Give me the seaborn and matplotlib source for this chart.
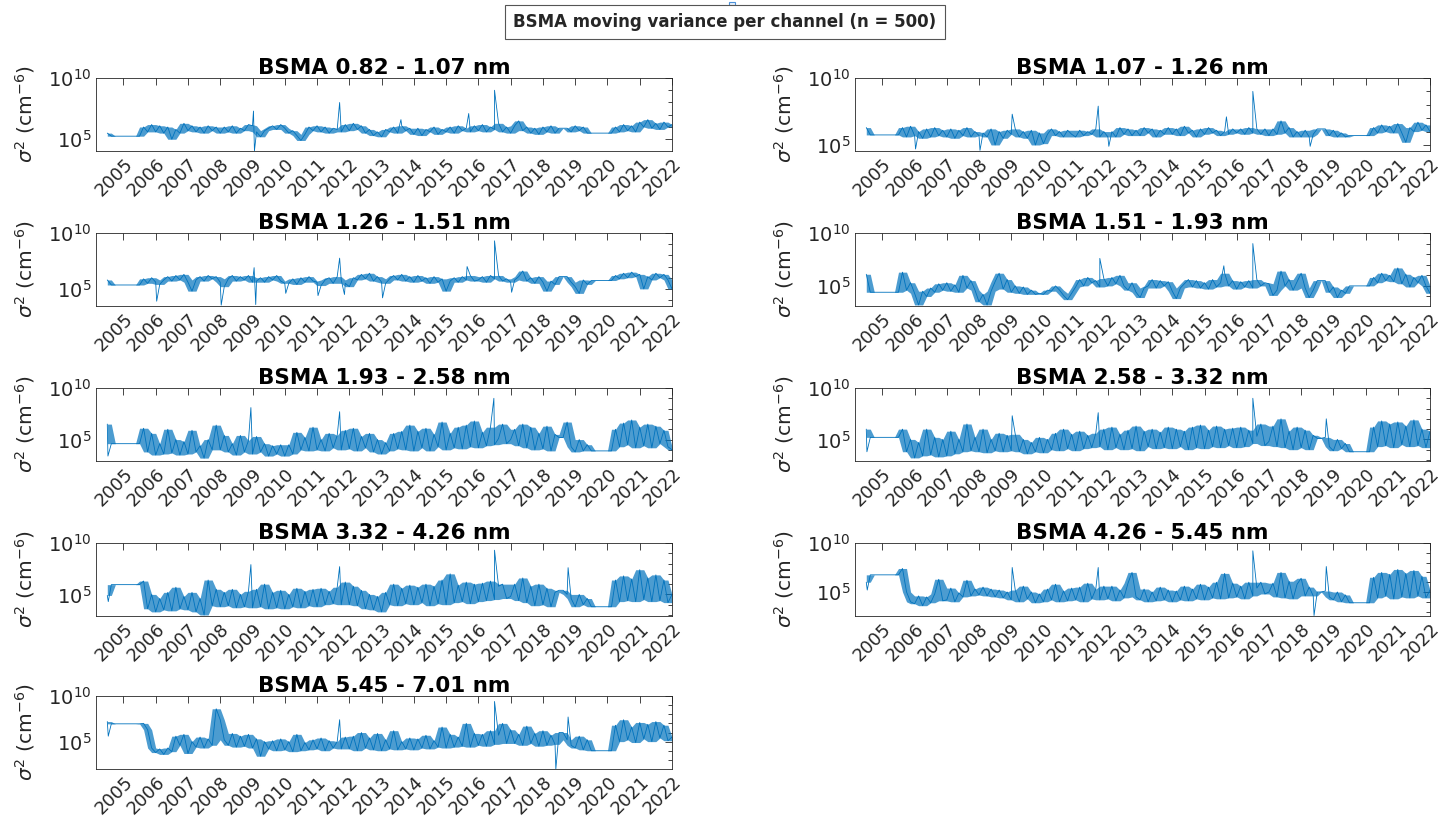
import numpy as np
import matplotlib
matplotlib.use("Agg")
import matplotlib.pyplot as plt
import seaborn as sns
from matplotlib.patches import Rectangle

# sampling dates, decimal years (every 1/8 year from mid-2004)
t_grid = 2004.5 + 0.125 * np.arange(141)

titles = ["BSMA 0.82 - 1.07 nm", "BSMA 1.07 - 1.26 nm", "BSMA 1.26 - 1.51 nm",
          "BSMA 1.51 - 1.93 nm", "BSMA 1.93 - 2.58 nm", "BSMA 2.58 - 3.32 nm",
          "BSMA 3.32 - 4.26 nm", "BSMA 4.26 - 5.45 nm", "BSMA 5.45 - 7.01 nm"]
years = list(range(2005, 2023))
ylow = [4.04, 4.55, 3.47, 3.1, 2.92, 2.9, 2.9, 2.55, 2.0]   # log10 of lower y limit

# log10 of moving variance
v_082 = [5.5, 5.25, 5.25, 5.25,
         5.25, 5.25, 5.25, 5.25, 5.25, 6.0, 5.6, 6.2,
         5.6, 6.1, 5.5, 6.0, 5.0, 5.8, 5.5, 6.3,
         5.7, 6.1, 5.6, 6.0, 5.5, 6.1, 5.7, 6.0,
         5.5, 6.0, 5.6, 6.1, 5.5, 5.9, 5.7, 6.2,
         6.1, 5.6, 5.2, 5.7, 5.9, 6.1, 5.8, 6.2,
         5.9, 5.5, 5.7, 5.3, 4.9, 5.4, 6.0, 5.7,
         6.1, 5.6, 6.0, 5.5, 5.9, 5.8, 5.6, 6.2,
         5.7, 6.3, 5.8, 6.1, 5.5, 5.8, 5.3, 5.6,
         5.2, 5.8, 5.6, 6.0, 5.5, 6.1, 5.7, 5.9,
         5.4, 5.9, 5.3, 5.8, 5.6, 6.0, 5.4, 5.8,
         5.6, 6.0, 5.5, 6.1, 5.7, 5.9, 5.6, 6.1,
         5.7, 6.2, 5.6, 6.0, 5.8, 6.3, 5.6, 6.0,
         5.5, 6.1, 6.5, 5.7, 6.0, 5.5, 5.9, 5.4,
         6.0, 5.6, 6.1, 5.5, 5.9, 5.9, 5.9, 5.6,
         6.1, 5.7, 6.0, 5.5, 5.5, 5.5, 5.5, 5.5,
         5.5, 5.5, 6.0, 5.6, 6.2, 5.7, 6.1, 5.6,
         6.4, 6.0, 6.6, 5.9, 6.3, 5.8, 6.4, 6.0,
         6.2]
v_107 = [6.3, 5.75, 5.75, 5.75,
         5.75, 5.75, 5.75, 5.75, 5.75, 6.3, 5.6, 6.4,
         5.7, 6.0, 5.5, 6.2, 5.6, 6.3, 5.7, 6.1,
         5.6, 6.2, 5.5, 6.1, 5.7, 6.3, 5.6, 6.0,
         5.7, 5.9, 5.6, 6.2, 5.0, 6.0, 5.5, 6.1,
         5.8, 6.2, 5.6, 6.0, 5.5, 6.1, 5.0, 5.9,
         5.1, 5.8, 6.2, 5.7, 6.0, 5.6, 6.1, 5.8,
         5.6, 6.1, 5.7, 6.0, 5.8, 6.2, 5.6, 6.0,
         5.6, 6.0, 5.6, 6.3, 5.8, 6.2, 5.7, 6.1,
         5.7, 6.3, 5.9, 6.2, 5.6, 6.1, 5.8, 6.3,
         5.8, 6.2, 5.7, 6.4, 5.9, 6.1, 5.6, 6.2,
         5.8, 6.3, 5.9, 6.1, 5.7, 6.0, 5.8, 6.2,
         5.9, 6.2, 5.8, 6.3, 5.9, 6.2, 5.8, 6.2,
         5.7, 6.2, 5.8, 6.8, 5.9, 6.3, 5.6, 6.0,
         5.6, 6.1, 5.6, 5.8, 6.2, 6.2, 6.2, 5.7,
         6.1, 5.6, 5.9, 5.6, 5.7, 5.7, 5.7, 5.7,
         5.7, 5.7, 6.3, 5.9, 6.5, 6.0, 6.4, 5.9,
         6.6, 5.9, 5.2, 6.3, 6.0, 6.7, 6.1, 6.5,
         6.0]
v_126 = [5.8, 5.35, 5.35, 5.35,
         5.35, 5.35, 5.35, 5.35, 5.35, 5.9, 5.5, 6.0,
         5.6, 5.4, 5.8, 6.1, 5.7, 6.2, 5.8, 6.3,
         5.6, 4.8, 5.8, 6.1, 5.7, 6.2, 5.9, 6.1,
         5.6, 5.2, 5.9, 6.2, 5.7, 6.1, 5.8, 6.2,
         5.6, 5.7, 6.0, 5.6, 6.1, 5.8, 6.2, 5.7,
         5.5, 5.5, 5.9, 5.4, 6.0, 5.6, 6.1, 5.7,
         5.6, 5.3, 5.8, 6.0, 5.5, 6.1, 5.8, 5.5,
         5.2, 6.0, 5.8, 6.3, 5.9, 6.4, 5.7, 6.1,
         5.6, 5.5, 5.9, 6.2, 5.8, 6.3, 5.7, 6.1,
         5.6, 6.2, 5.7, 6.0, 5.5, 6.1, 5.6, 5.9,
         4.8, 5.7, 6.0, 5.6, 6.1, 5.8, 6.2, 5.7,
         5.8, 6.1, 5.6, 6.2, 5.9, 6.2, 5.7, 5.9,
         5.6, 5.8, 6.1, 6.6, 5.7, 6.0, 5.5, 6.1,
         5.6, 4.8, 5.7, 5.4, 6.1, 6.1, 6.1, 5.6,
         5.2, 4.6, 5.8, 5.4, 5.75, 5.75, 5.75, 5.75,
         5.75, 5.75, 6.2, 5.9, 6.4, 6.0, 6.5, 6.1,
         6.3, 5.0, 6.1, 5.8, 6.4, 6.0, 6.3, 5.8,
         5.0]
v_151 = [6.1, 4.4, 4.4, 4.4,
         4.4, 4.4, 4.4, 4.4, 4.4, 6.3, 4.6, 5.3,
         4.3, 3.2, 4.5, 4.0, 4.8, 4.4, 5.2, 4.6,
         5.3, 4.5, 5.1, 4.4, 6.0, 4.8, 5.5, 4.6,
         3.5, 4.2, 3.2, 4.5, 5.4, 6.2, 4.7, 5.6,
         4.4, 5.0, 4.3, 4.9, 4.2, 4.6, 4.2, 4.3,
         4.2, 4.6, 4.5, 5.0, 4.6, 4.1, 3.7, 4.3,
         4.9, 5.6, 5.0, 5.8, 5.3, 5.5, 4.9, 5.7,
         5.0, 5.8, 5.2, 6.0, 5.0, 4.6, 5.3, 4.4,
         3.9, 4.8, 5.0, 5.6, 4.8, 5.5, 5.0, 5.4,
         4.5, 3.8, 4.8, 5.2, 5.6, 4.9, 5.5, 4.8,
         5.3, 4.7, 5.6, 4.9, 5.3, 6.2, 5.0, 5.5,
         4.7, 5.4, 4.9, 5.5, 4.8, 5.6, 5.0, 5.3,
         5.2, 4.1, 4.6, 6.4, 5.0, 5.6, 4.6, 5.4,
         6.2, 4.8, 3.9, 4.6, 5.5, 5.5, 5.5, 4.4,
         4.9, 3.9, 4.6, 4.3, 5.0, 5.0, 5.0, 5.0,
         5.0, 5.0, 5.8, 5.3, 6.2, 5.5, 6.0, 5.4,
         6.7, 5.2, 6.1, 4.9, 5.8, 5.3, 6.0, 5.0,
         4.3]
v_193 = [6.5, 4.6, 4.6, 4.6,
         4.6, 4.6, 4.6, 4.6, 4.6, 6.1, 3.8, 5.6,
         3.5, 4.6, 3.6, 6.0, 3.7, 5.0, 3.5, 4.8,
         3.6, 5.9, 3.8, 4.4, 3.2, 5.0, 4.0, 6.4,
         4.0, 5.4, 3.8, 4.6, 3.5, 5.4, 3.8, 4.9,
         3.6, 5.3, 3.8, 4.6, 3.4, 4.4, 3.6, 4.5,
         3.4, 4.5, 3.6, 5.7, 4.0, 5.2, 3.9, 6.2,
         4.0, 5.0, 3.9, 5.6, 4.2, 5.4, 4.0, 5.9,
         4.1, 6.1, 3.9, 5.3, 4.2, 5.6, 3.8, 5.0,
         3.6, 4.7, 3.9, 5.6, 4.1, 5.8, 4.0, 6.4,
         3.9, 5.8, 4.2, 6.1, 3.9, 5.5, 4.3, 6.7,
         4.0, 5.6, 4.2, 6.2, 4.1, 6.4, 4.3, 6.8,
         4.2, 5.7, 4.4, 6.2, 4.5, 5.1, 6.5, 4.6,
         5.0, 6.0, 4.4, 6.5, 4.2, 6.2, 4.0, 5.6,
         4.1, 6.3, 3.9, 5.5, 5.2, 5.2, 6.7, 4.3,
         3.8, 5.0, 3.9, 4.5, 3.9, 3.9, 3.9, 3.9,
         3.9, 3.9, 6.0, 4.3, 6.6, 4.5, 6.9, 4.2,
         6.2, 4.4, 6.5, 4.2, 6.3, 4.6, 5.9, 4.3,
         4.0]
v_258 = [6.0, 5.2, 5.2, 5.2,
         5.2, 5.2, 5.2, 5.2, 5.2, 6.0, 3.8, 5.0,
         3.2, 4.7, 3.4, 6.0, 3.5, 5.2, 3.3, 5.0,
         3.4, 5.8, 3.6, 5.0, 3.8, 6.5, 3.9, 5.2,
         3.8, 6.0, 3.7, 5.0, 3.9, 5.6, 3.8, 5.4,
         3.9, 5.5, 3.8, 5.0, 3.6, 4.7, 3.8, 5.2,
         3.7, 5.0, 4.0, 5.6, 3.9, 6.0, 4.1, 5.5,
         3.9, 5.8, 4.1, 5.4, 4.2, 5.6, 4.3, 6.0,
         4.0, 6.2, 4.2, 5.5, 4.0, 5.9, 4.1, 6.3,
         3.9, 5.8, 4.3, 6.0, 4.1, 5.7, 4.2, 6.2,
         4.1, 6.0, 4.3, 5.8, 4.0, 6.2, 4.2, 6.4,
         4.1, 5.9, 4.3, 6.3, 4.2, 6.0, 4.4, 6.1,
         4.2, 6.2, 4.3, 5.9, 4.6, 5.3, 6.5, 4.4,
         4.8, 6.3, 4.3, 7.0, 4.2, 5.8, 4.0, 6.2,
         4.2, 5.9, 4.0, 5.4, 5.1, 5.1, 5.2, 4.3,
         3.9, 5.0, 4.1, 4.6, 3.8, 3.8, 3.8, 3.8,
         3.8, 3.8, 6.2, 4.3, 6.8, 4.4, 6.5, 4.2,
         6.7, 4.5, 6.3, 4.3, 6.9, 4.4, 6.0, 4.2,
         5.8]
v_332 = [4.9, 5.95, 5.95, 5.95,
         5.95, 5.95, 5.95, 5.95, 5.95, 6.3, 3.6, 5.0,
         3.3, 4.6, 3.5, 5.2, 3.4, 5.7, 3.6, 4.8,
         3.5, 5.2, 3.3, 4.6, 3.0, 6.4, 3.9, 5.5,
         3.8, 5.2, 3.9, 5.5, 3.7, 5.0, 3.8, 5.3,
         3.7, 5.5, 3.8, 6.0, 3.6, 5.2, 3.7, 5.4,
         3.6, 5.0, 3.8, 5.6, 3.7, 5.3, 3.9, 5.5,
         3.8, 5.6, 4.0, 5.3, 4.1, 5.7, 4.0, 6.2,
         4.0, 5.8, 3.9, 5.4, 3.6, 5.0, 3.5, 4.8,
         3.3, 5.2, 4.0, 6.0, 3.9, 5.6, 4.1, 5.9,
         4.0, 5.7, 4.2, 6.0, 3.9, 5.8, 4.1, 6.4,
         4.0, 7.0, 4.2, 5.9, 4.3, 6.2, 4.1, 6.0,
         4.3, 6.1, 4.4, 6.3, 4.5, 5.8, 6.0, 4.6,
         4.8, 6.0, 4.4, 6.6, 4.2, 5.8, 3.9, 6.0,
         4.0, 5.6, 3.8, 5.2, 5.4, 5.4, 5.0, 4.6,
         3.8, 5.0, 4.0, 4.6, 3.8, 3.8, 3.8, 3.8,
         3.8, 3.8, 6.4, 4.3, 6.8, 4.4, 6.5, 4.3,
         7.4, 4.5, 6.6, 4.3, 6.9, 4.4, 6.4, 4.2,
         5.0]
v_426 = [6.0, 6.75, 6.75, 6.75,
         6.75, 6.75, 6.75, 6.75, 6.75, 7.4, 5.0, 4.0,
         3.8, 4.6, 3.6, 4.5, 3.9, 4.8, 6.3, 4.1,
         4.2, 5.4, 4.0, 4.9, 4.5, 6.2, 4.6, 5.3,
         4.7, 5.5, 4.6, 5.3, 4.5, 5.2, 4.4, 5.0,
         4.2, 5.2, 4.0, 5.6, 4.3, 5.0, 3.9, 4.8,
         4.0, 5.3, 4.2, 5.8, 4.0, 5.1, 4.1, 5.4,
         4.2, 5.5, 4.0, 5.9, 4.3, 5.3, 4.2, 5.6,
         4.3, 5.6, 4.1, 5.2, 4.4, 5.9, 7.0, 4.5,
         4.2, 5.3, 4.0, 5.0, 4.1, 5.5, 4.2, 5.2,
         4.0, 5.1, 4.2, 5.6, 4.1, 5.3, 4.3, 5.8,
         4.2, 5.5, 4.4, 6.0, 4.3, 6.9, 4.4, 5.9,
         4.5, 5.6, 4.3, 6.0, 4.6, 5.4, 6.0, 4.8,
         5.0, 5.9, 4.5, 7.0, 4.4, 6.1, 4.3, 5.8,
         6.4, 4.6, 5.5, 4.6, 5.0, 5.0, 5.1, 4.5,
         4.2, 5.0, 4.0, 4.7, 3.9, 3.9, 3.9, 3.9,
         3.9, 3.9, 6.5, 4.4, 7.0, 4.6, 6.8, 4.3,
         7.3, 4.5, 6.9, 4.4, 7.2, 4.6, 6.6, 4.4,
         5.2]
v_545 = [7.2, 6.95, 6.95, 6.95,
         6.95, 6.95, 6.95, 6.95, 6.95, 7.0, 6.3, 4.3,
         3.8, 4.2, 3.6, 4.3, 3.9, 5.6, 4.6, 5.8,
         3.7, 5.0, 4.4, 5.5, 4.3, 5.3, 4.6, 8.6,
         7.4, 5.2, 4.6, 5.9, 4.4, 5.6, 4.5, 5.8,
         4.3, 5.3, 3.4, 5.0, 4.2, 5.1, 4.0, 5.3,
         4.1, 5.0, 3.9, 5.8, 4.0, 4.9, 4.1, 5.2,
         4.2, 5.4, 4.0, 5.1, 4.3, 5.0, 4.2, 5.5,
         4.2, 5.6, 4.0, 6.0, 4.3, 5.4, 4.1, 5.9,
         4.0, 5.2, 4.2, 6.2, 4.1, 5.0, 4.2, 5.4,
         4.1, 5.3, 4.3, 5.7, 4.2, 5.1, 4.4, 6.6,
         4.3, 5.8, 4.4, 5.5, 4.5, 7.0, 4.4, 5.9,
         4.6, 5.8, 4.5, 6.2, 4.7, 5.7, 7.0, 4.8,
         6.3, 4.8, 5.8, 4.6, 6.7, 4.8, 5.9, 4.5,
         6.2, 4.6, 5.7, 4.7, 6.0, 6.0, 5.2, 4.6,
         4.3, 5.6, 4.1, 5.2, 4.0, 4.0, 4.0, 4.0,
         4.0, 4.0, 6.8, 5.0, 7.4, 5.2, 6.6, 4.9,
         7.1, 5.3, 6.9, 5.0, 7.2, 5.4, 6.8, 5.1,
         5.5]

# short spikes and dips between sampling dates (date, log10 value)
spk_t = [[2009.03, 2009.06, 2011.7, 2013.6, 2015.7, 2016.5],
         [2006.03, 2008.03, 2009.03, 2011.7, 2012.03, 2015.68, 2016.5, 2018.28],
         [2006.03, 2008.03, 2009.05, 2009.1, 2010.03, 2011.03, 2011.7, 2011.85,
          2013.03, 2015.65, 2016.5, 2017.03],
         [2011.75, 2015.6, 2016.5],
         [2004.52, 2008.95, 2011.7, 2016.48],
         [2004.52, 2009.03, 2011.7, 2016.5, 2018.78],
         [2004.53, 2008.95, 2011.7, 2016.5, 2018.78],
         [2004.53, 2009.03, 2011.7, 2016.5, 2018.4, 2018.78],
         [2004.53, 2011.7, 2016.5, 2018.4, 2018.78]]
spk_v = [[7.3, 4.05, 8.0, 6.6, 7.1, 9.0],
         [4.7, 4.6, 7.3, 7.9, 4.9, 7.1, 9.0, 4.9],
         [3.9, 3.55, 6.9, 3.6, 4.6, 4.4, 7.75, 4.5, 4.2, 7.0, 9.3, 4.7],
         [7.6, 6.9, 9.0],
         [3.4, 8.1, 7.7, 9.0],
         [3.8, 7.3, 7.6, 9.0, 7.0],
         [4.3, 7.9, 7.7, 9.3, 7.6],
         [5.2, 7.5, 7.5, 9.2, 2.6, 7.6],
         [5.6, 7.4, 9.4, 2.0, 7.7]]

series = [v_082, v_107, v_126, v_151, v_193, v_258, v_332, v_426, v_545]

sns.set_theme(style="white")
plt.rcParams["font.family"] = ["DejaVu Sans"]
plt.rcParams["mathtext.fontset"] = "dejavusans"

W, H = 1445, 827
fig = plt.figure(figsize=(W / 100, H / 100), dpi=100)

col_x = [96, 855]
col_w = [576, 575]
row_top = [78, 233, 388, 543, 696]
ax_h = 73
blue = "#0072BD"
txt = "#262626"

for k in range(9):
    r, c = k // 2, k % 2
    ax = fig.add_axes([col_x[c] / W, 1 - (row_top[r] + ax_h) / H, col_w[c] / W, ax_h / H])

    # spread of the fast fluctuations: min / max of neighbouring samples
    v = np.array(series[k])
    nb = np.vstack([np.r_[v[0], v[:-1]], v, np.r_[v[1:], v[-1]]])
    ax.fill_between(t_grid, 10 ** nb.min(axis=0), 10 ** nb.max(axis=0),
                    color=blue, alpha=0.7, lw=0)

    tt = np.concatenate([t_grid, spk_t[k]])
    vv = np.concatenate([v, spk_v[k]])
    order = np.argsort(tt)
    sns.lineplot(x=tt[order], y=10 ** vv[order], ax=ax, color=blue,
                 linewidth=0.6, estimator=None, sort=False)

    ax.set_yscale("log")
    ax.set_xlim(2004.15, 2022.0)
    ax.set_ylim(10 ** ylow[k], 1e10)
    ax.set_yticks([1e5, 1e10])
    ax.set_yticks([10.0 ** e for e in range(2, 10) if e != 5 and e > ylow[k]], minor=True)
    ax.yaxis.set_minor_formatter(matplotlib.ticker.NullFormatter())
    ax.set_xticks(years)
    ax.set_xticklabels([str(y) for y in years], rotation=45, ha="right",
                       rotation_mode="anchor", fontsize=13, color=txt)
    ax.tick_params(axis="y", labelsize=14, labelcolor=txt)
    ax.tick_params(which="both", direction="in", top=True, right=True,
                   color=txt, width=0.6)
    ax.tick_params(which="major", length=5)
    ax.tick_params(which="minor", length=3)
    ax.tick_params(axis="x", pad=3)
    for s in ax.spines.values():
        s.set_color(txt)
        s.set_linewidth(0.6)
    ax.set_xlabel("")
    ax.set_ylabel(r"$\sigma^2$ (cm$^{-6}$)", fontsize=14.5, color=txt, labelpad=8)
    ax.set_title(titles[k], fontsize=15.5, fontweight="bold", pad=3, color="black")

fig.text(725 / W, 1 - 22 / H, "BSMA moving variance per channel (n = 500)",
         ha="center", va="center", fontsize=12, fontweight="bold",
         bbox=dict(boxstyle="square,pad=0.5", fc="white", ec="#555555", lw=0.8))
fig.add_artist(Rectangle((729 / W, 1 - 8 / H), 6 / W, 6 / H, transform=fig.transFigure,
                         fc="#e8f1fb", ec="#4a90d9", lw=0.8))

fig.savefig("out.png", dpi=100)
